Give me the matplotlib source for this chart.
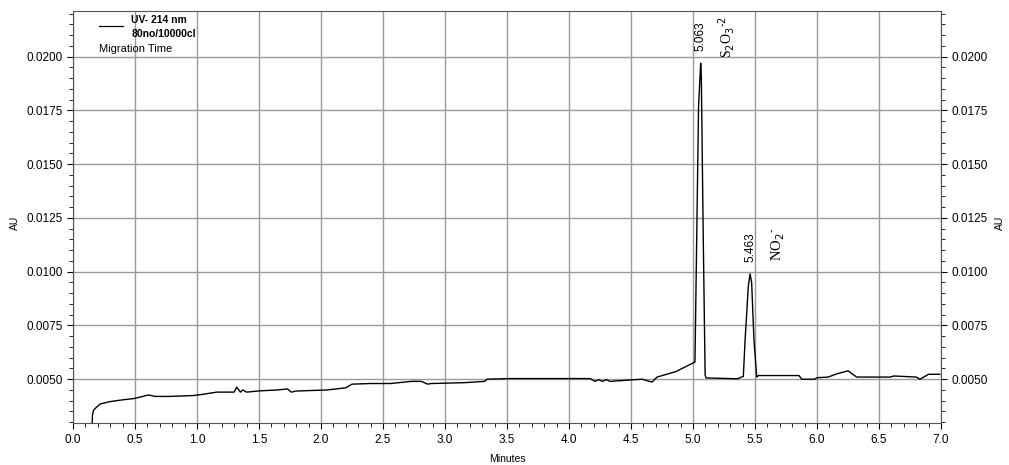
import numpy as np
import matplotlib.pyplot as plt
from matplotlib.ticker import MultipleLocator, FormatStrFormatter

plt.rcParams['font.family'] = ['Liberation Sans', 'DejaVu Sans']

# electropherogram trace (minutes, AU)
tid = [0.156, 0.157, 0.165, 0.19, 0.22, 0.30, 0.40, 0.49, 0.55, 0.61, 0.66,
       0.78, 0.97, 1.05, 1.16, 1.30, 1.32, 1.35, 1.37, 1.40, 1.51, 1.65,
       1.73, 1.76, 1.80, 2.05, 2.20, 2.25, 2.40, 2.56, 2.73, 2.81, 2.86,
       2.89, 3.16, 3.32, 3.34, 3.52, 4.17, 4.21, 4.24, 4.27, 4.30, 4.33,
       4.59, 4.65, 4.67, 4.71, 4.86, 5.016, 5.045, 5.056, 5.062, 5.067,
       5.083, 5.098, 5.105, 5.36, 5.39, 5.406, 5.42, 5.446, 5.46, 5.473,
       5.492, 5.514, 5.527, 5.855, 5.877, 5.98, 6.00, 6.09, 6.16, 6.25,
       6.32, 6.59, 6.62, 6.80, 6.83, 6.90, 6.99]
au = [0.00295, 0.0033, 0.00355, 0.0037, 0.00385, 0.00396, 0.00404, 0.0041,
      0.00418, 0.00427, 0.0042, 0.0042, 0.00424, 0.0043, 0.0044, 0.0044,
      0.00463, 0.0044, 0.0045, 0.0044, 0.00446, 0.0045, 0.00455, 0.0044,
      0.00445, 0.0045, 0.0046, 0.00477, 0.0048, 0.0048, 0.0049, 0.0049,
      0.00477, 0.0048, 0.00484, 0.0049, 0.0050, 0.00503, 0.00503, 0.0049,
      0.00498, 0.0049, 0.00498, 0.0049, 0.0050, 0.0049, 0.00487, 0.0051,
      0.00535, 0.0058, 0.0177, 0.0190, 0.0197, 0.0192, 0.0115, 0.0052,
      0.00506, 0.00502, 0.0051, 0.00513, 0.0068, 0.0093, 0.0099, 0.0095,
      0.0068, 0.0051, 0.00517, 0.00517, 0.0050, 0.0050, 0.00507, 0.0051,
      0.00525, 0.00539, 0.0051, 0.0051, 0.00515, 0.0051, 0.0050, 0.00523,
      0.00523]

topper = [5.063, 5.463]
topp_h = [0.0197, 0.0099]
ioner = [r"S$_2$O$_3$$^{\text{-2}}$", r"NO$_2$$^{\text{-}}$"]

fig = plt.figure(figsize=(10.09, 4.65), dpi=100)
ax = fig.add_axes([0.0723, 0.0897, 0.8603, 0.8873])

ax.plot(tid, au, color="black", linewidth=1)

ax.set_xlim(0, 7)
ax.set_ylim(0.00295, 0.02214)
ax.xaxis.set_major_locator(MultipleLocator(0.5))
ax.xaxis.set_minor_locator(MultipleLocator(0.1))
ax.yaxis.set_major_locator(MultipleLocator(0.0025))
ax.yaxis.set_minor_locator(MultipleLocator(0.0005))
ax.xaxis.set_major_formatter(FormatStrFormatter("%.1f"))
ax.yaxis.set_major_formatter(FormatStrFormatter("%.4f"))
ax.tick_params(axis="both", which="both", direction="out", labelsize=8.5)
ax.tick_params(axis="y", which="both", right=True, labelright=True)
ax.tick_params(which="major", length=4)
ax.tick_params(which="minor", length=3)
ax.grid(True, which="major", color="#9a9a9a", linewidth=1)

for s in ax.spines.values():
    s.set_color("#555555")

ax.set_xlabel("Minutes", fontsize=7.5, labelpad=6)
fig.text(0.015, 0.52, "AU", rotation=90, fontsize=7.5, ha="center", va="center")
fig.text(0.991, 0.52, "AU", rotation=90, fontsize=7.5, ha="center", va="center")

# toppmerking
for t, h in zip(topper, topp_h):
    ax.annotate("%.3f" % t, (t, h), xytext=(0, 8.5), textcoords="offset points",
                rotation=90, ha="center", va="bottom", fontsize=8.5)
ax.text(5.27, 0.0219, ioner[0], rotation=90, ha="center", va="top",
        fontsize=10, family="Liberation Serif")
ax.text(5.69, 0.01208, ioner[1], rotation=90, ha="center", va="top",
        fontsize=10.5, family="Liberation Serif")

# legende
ax.plot([0.21, 0.405], [0.02143, 0.02143], color="black", linewidth=0.9)
ax.text(0.47, 0.02171, "UV- 214 nm", fontsize=7.5, fontweight="bold", va="center")
ax.text(0.47, 0.02106, "80no/10000cl", fontsize=7.5, fontweight="bold", va="center")
ax.text(0.21, 0.02036, "Migration Time", fontsize=8, va="center")

fig.savefig("out.png", dpi=100)
